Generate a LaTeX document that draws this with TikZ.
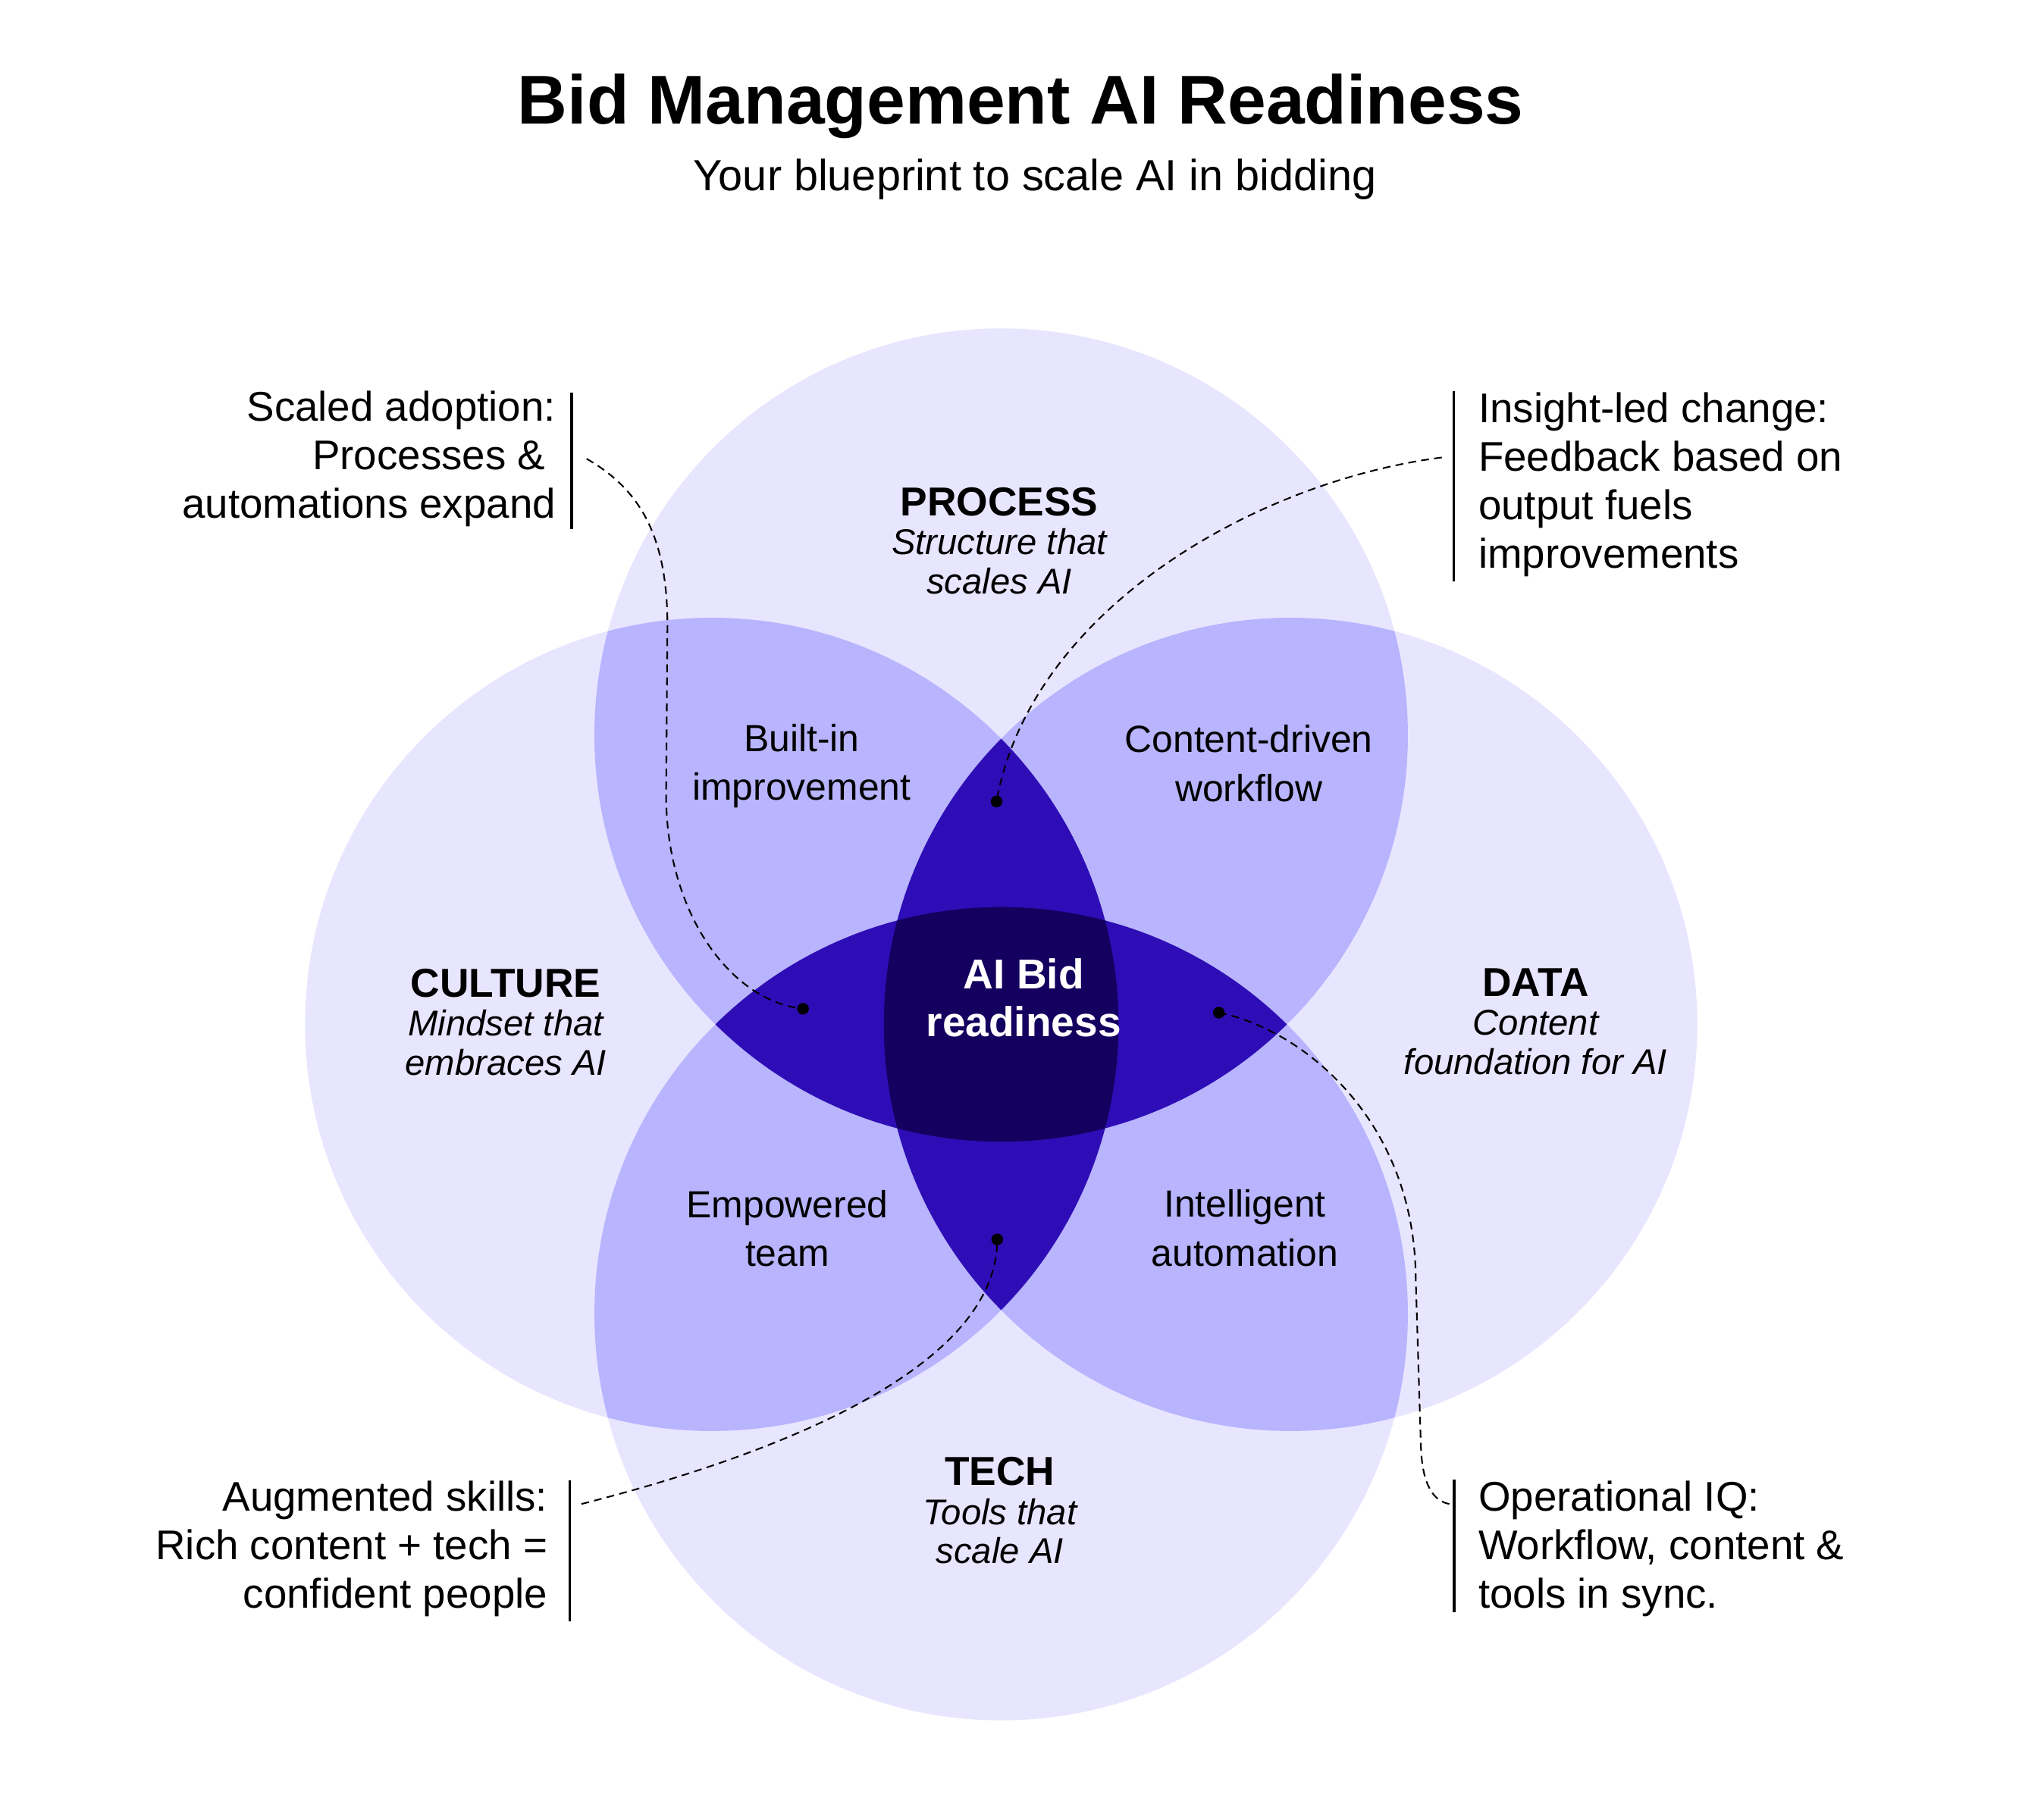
\documentclass[tikz,border=0pt]{standalone}
\usepackage{fontspec}
\setmainfont{Liberation Sans}
\usetikzlibrary{positioning}
\definecolor{pillar}{HTML}{E8E5FF}
\definecolor{pair}{HTML}{B8B4FD}
\definecolor{triad}{HTML}{2E0DB6}
\definecolor{core}{HTML}{14005E}
\newcommand{\vennr}{312pt}
\newcommand{\pillarname}[1]{{\fontsize{31}{30}\selectfont\upshape\bfseries #1}}

\begin{document}
\begin{tikzpicture}[
    x=1pt, y=-1pt,
    head/.style={
        align=center,
        anchor=base,
        inner sep=0pt,
        font=\fontsize{27.5}{30}\selectfont\itshape
    },
    overlap/.style={align=center, anchor=base, inner sep=0pt, font=\fontsize{29}{37.5}\selectfont},
    note/.style={inner sep=0pt, font=\fontsize{31.8}{37.3}\selectfont},
    noteleft/.style={note, align=right, anchor=base east},
    noteright/.style={note, align=left, anchor=base west},
    bar/.style={line width=2pt},
    leader/.style={line width=1.2pt, dash pattern=on 6pt off 4pt},
    dot/.style={circle, fill=black, inner sep=0pt, minimum size=9pt}
]

% Canvas
\fill[white] (0,0) rectangle (1568,1384);
\useasboundingbox (0,0) rectangle (1568,1384);

% Circle centres
\coordinate (P) at (768,564);
\coordinate (C) at (546,786);
\coordinate (D) at (990,786);
\coordinate (T) at (768,1008);

% Single circles
\foreach \c in {P,C,D,T}
    \fill[pillar] (\c) circle[radius=\vennr];

% Pair overlaps
\begin{scope}
    \clip (P) circle[radius=\vennr];
    \fill[pair] (C) circle[radius=\vennr];
    \fill[pair] (D) circle[radius=\vennr];
\end{scope}
\begin{scope}
    \clip (T) circle[radius=\vennr];
    \fill[pair] (C) circle[radius=\vennr];
    \fill[pair] (D) circle[radius=\vennr];
\end{scope}

% Triple overlaps
\begin{scope}
    \clip (P) circle[radius=\vennr];
    \fill[triad] (T) circle[radius=\vennr];
\end{scope}
\begin{scope}
    \clip (C) circle[radius=\vennr];
    \fill[triad] (D) circle[radius=\vennr];
\end{scope}

% Core
\begin{scope}
    \clip (P) circle[radius=\vennr];
    \clip (T) circle[radius=\vennr];
    \clip (C) circle[radius=\vennr];
    \fill[core] (D) circle[radius=\vennr];
\end{scope}

% Title
\node[anchor=base, inner sep=0pt, font=\fontsize{53}{60}\selectfont\bfseries] (title) at (783,95) {Bid Management AI Readiness};
\node[anchor=base, inner sep=0pt, font=\fontsize{33.5}{40}\selectfont] (subtitle) at (794,146.4) {Your blueprint to scale AI in bidding};

% Pillars (anchored on last line)
\node[head] (process) at (766.5,455.6) {\pillarname{PROCESS}\\Structure that\\scales AI};
\node[head] (culture) at (388,824.9) {\pillarname{CULTURE}\\Mindset that\\embraces AI};
\node[head] (data) at (1178,824.4) {\pillarname{DATA}\\Content\\foundation for AI};
\node[head] (tech) at (767,1199.8) {\pillarname{TECH}\\Tools that\\scale AI};

% Overlaps
\node[overlap] (builtin) at (615,614) {Built-in\\improvement};
\node[overlap] (workflow) at (958,615) {Content-driven\\workflow};
\node[overlap] (team) at (604,971.6) {Empowered\\team};
\node[overlap] (automation) at (955,971.3) {Intelligent\\automation};
\node[overlap, text=white, font=\fontsize{32}{36.8}\selectfont\bfseries] (core) at (785.3,795.2) {AI Bid\\readiness};

% Callouts
\node[noteleft] (scaled) at (426.5,397.7) {Scaled adoption:\\Processes \&\kern8pt\\automations expand};
\node[noteright] (insight) at (1134,436) {Insight-led change:\\Feedback based on\\output fuels\\improvements};
\node[noteleft] (skills) at (420.2,1234) {Augmented skills:\\Rich content + tech =\\confident people};
\node[noteright] (opsiq) at (1134,1234) {Operational IQ:\\Workflow, content \&\\tools in sync.};

\draw[bar] (438.5,301) -- (438.5,406);
\draw[bar] (1115.2,300) -- (1115.2,446);
\draw[bar] (437,1136) -- (437,1244);
\draw[bar] (1115.4,1135) -- (1115.4,1237);

% Leaders
\coordinate (scaled-end) at (450,352);
\coordinate (insight-end) at (1106,351);
\coordinate (skills-end) at (446,1154);
\coordinate (opsiq-end) at (1112,1154);

\node[dot] (dot-scaled) at (616,774) {};
\node[dot] (dot-insight) at (764.5,615) {};
\node[dot] (dot-skills) at (765,951) {};
\node[dot] (dot-opsiq) at (935,777) {};

\draw[leader] (scaled-end) .. controls (490,375) and (512,410) .. (512,480)
    -- (511,610) .. controls (511,700) and (560,768) .. (dot-scaled.center);
\draw[leader] (insight-end) .. controls (960,370) and (790,470) .. (dot-insight.center);
\draw[leader] (skills-end) .. controls (560,1125) and (765,1060) .. (dot-skills.center);
\draw[leader] (dot-opsiq.center) .. controls (1000,790) and (1085,860) .. (1086,980)
    -- (1090,1110) .. controls (1091,1140) and (1100,1152) .. (opsiq-end);

\end{tikzpicture}
\end{document}
